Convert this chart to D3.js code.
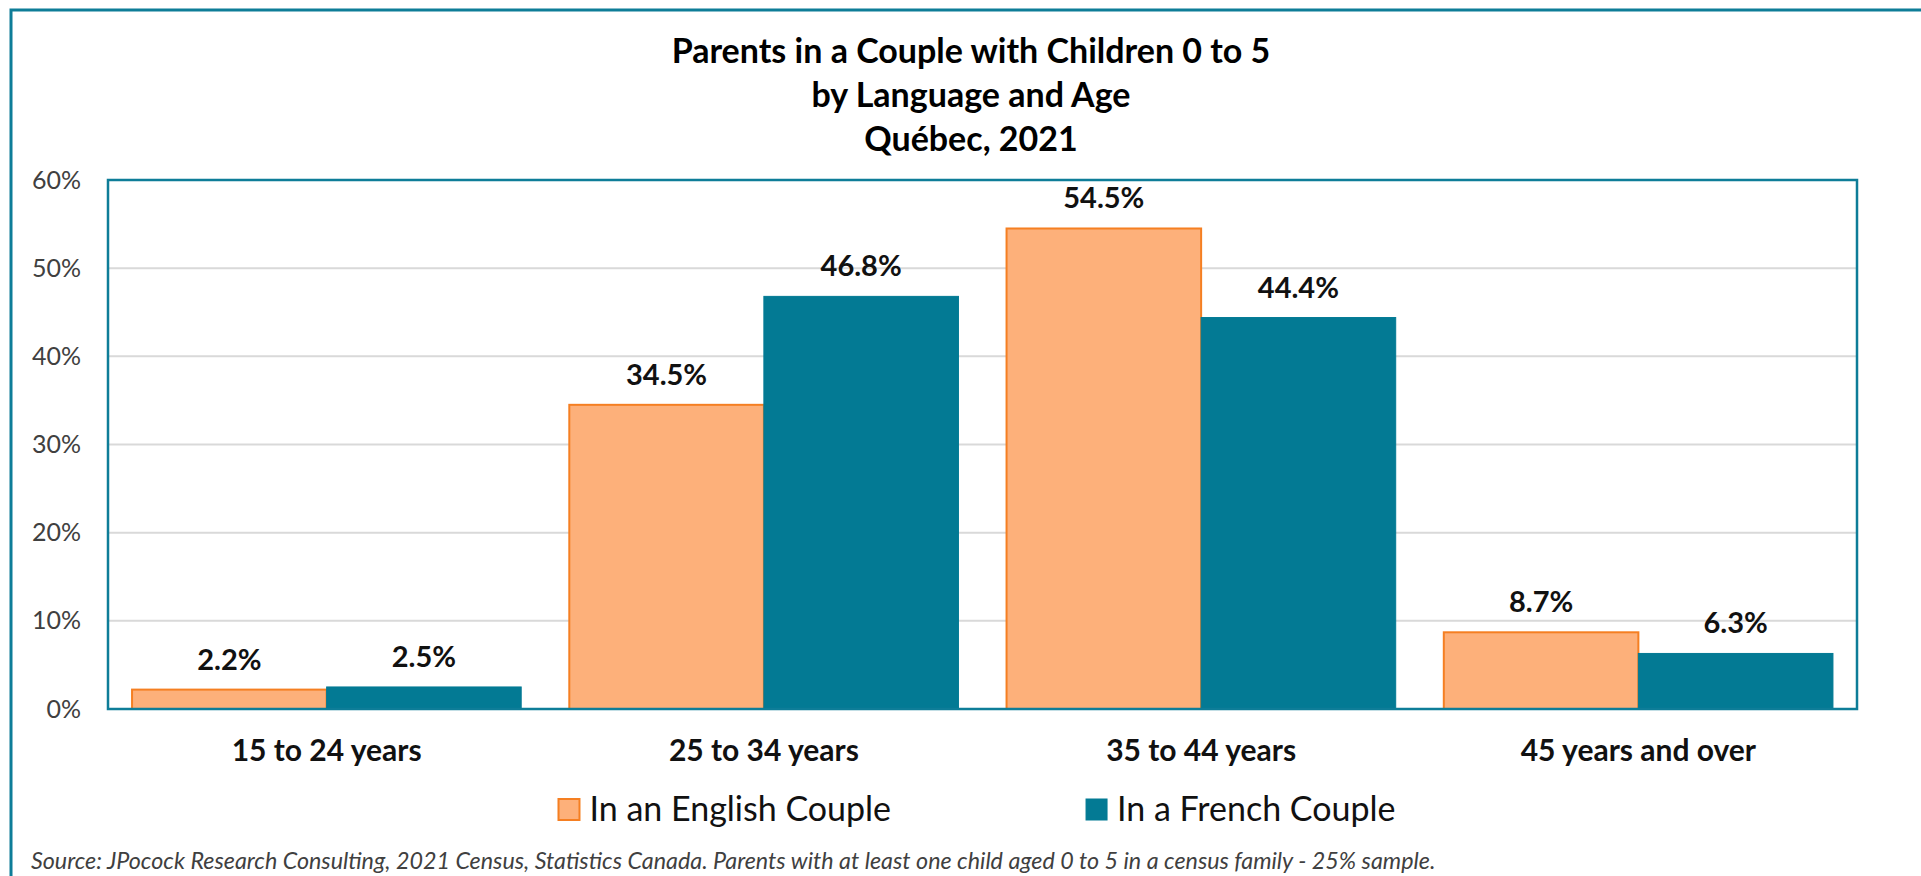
<!DOCTYPE html>
<html>
<head>
<meta charset="utf-8">
<script src="https://cdn.jsdelivr.net/npm/d3@7/dist/d3.min.js"></script>
<style>
  html, body { margin: 0; padding: 0; background: #ffffff; overflow: hidden; }
  svg { display: block; }
  text { font-family: Lato, "Open Sans", "Noto Sans", sans-serif; }
</style>
</head>
<body>
<svg id="chart" width="1921" height="876"></svg>
<script>
// ---- data ----
const titleLines = ["Parents in a Couple with Children 0 to 5", "by Language and Age", "Québec, 2021"];
const categories = ["15 to 24 years", "25 to 34 years", "35 to 44 years", "45 years and over"];
const seriesNames = ["In an English Couple", "In a French Couple"];
const englishValues = [2.2, 34.5, 54.5, 8.7];
const frenchValues = [2.5, 46.8, 44.4, 6.3];
const yTicks = [0, 10, 20, 30, 40, 50, 60];
const sourceText = "Source: JPocock Research Consulting, 2021 Census, Statistics Canada. Parents with at least one child aged 0 to 5 in a census family - 25% sample.";

// ---- styles ----
const TEAL = "#037a94";
const FRAME = "#0e7d98";
const ORANGE_FILL = "#fdb07a";
const ORANGE_STROKE = "#f57f22";
const seriesColors = [
  { fill: ORANGE_FILL, stroke: ORANGE_STROKE, sw: 2 },
  { fill: TEAL, stroke: TEAL, sw: 1 }
];

const svg = d3.select("#chart");

// outer frame (top and left edges visible, continues past the window)
svg.append("path")
  .attr("d", "M11,1000 L11,10 L1930,10")
  .attr("fill", "none")
  .attr("stroke", FRAME)
  .attr("stroke-width", 3);

const plot = { left: 108, right: 1857, top: 180, bottom: 709 };

const y = d3.scaleLinear().domain([0, 60]).range([plot.bottom, plot.top]);
const x0 = d3.scaleBand().domain(categories).range([plot.left, plot.right])
  .paddingInner(0.11).paddingOuter(0.055);
const x1 = d3.scaleBand().domain(seriesNames).range([0, x0.bandwidth()]);

// title
svg.append("g").selectAll("text").data(titleLines).join("text")
  .attr("x", 971)
  .attr("y", (d, i) => 63 + i * 44)
  .attr("text-anchor", "middle")
  .attr("font-size", 34)
  .attr("font-weight", 700)
  .attr("fill", "#000")
  .text(d => d);

// gridlines
svg.append("g").selectAll("line").data(yTicks.filter(t => t > 0 && t < 60)).join("line")
  .attr("x1", plot.left).attr("x2", plot.right)
  .attr("y1", d => y(d)).attr("y2", d => y(d))
  .attr("stroke", "#d9d9d9").attr("stroke-width", 2);

// y axis
const yAxis = svg.append("g")
  .attr("transform", `translate(${plot.left},0)`)
  .call(d3.axisLeft(y).tickValues(yTicks).tickFormat(d => d + "%").tickSize(0).tickPadding(27));
yAxis.select(".domain").remove();
yAxis.selectAll("text")
  .attr("font-size", 25)
  .attr("fill", "#404040")
  .style("font-family", "Lato, 'Open Sans', sans-serif");

// bars
const rows = categories.map((c, i) => ({ cat: c, vals: [englishValues[i], frenchValues[i]] }));
const groups = svg.append("g").selectAll("g").data(rows).join("g")
  .attr("transform", d => `translate(${x0(d.cat)},0)`);

groups.selectAll("rect").data(d => d.vals.map((v, k) => ({ v, k }))).join("rect")
  .attr("x", d => x1(seriesNames[d.k]))
  .attr("y", d => y(d.v))
  .attr("width", x1.bandwidth())
  .attr("height", d => y(0) - y(d.v))
  .attr("fill", d => seriesColors[d.k].fill)
  .attr("stroke", d => seriesColors[d.k].stroke)
  .attr("stroke-width", d => seriesColors[d.k].sw);

// value labels
groups.selectAll("text.val").data(d => d.vals.map((v, k) => ({ v, k }))).join("text")
  .attr("class", "val")
  .attr("x", d => x1(seriesNames[d.k]) + x1.bandwidth() / 2)
  .attr("y", d => y(d.v) - 20)
  .attr("text-anchor", "middle")
  .attr("font-size", 29)
  .attr("font-weight", 700)
  .attr("fill", "#111")
  .text(d => d3.format(".1f")(d.v) + "%");

// plot border
svg.append("rect")
  .attr("x", plot.left).attr("y", plot.top)
  .attr("width", plot.right - plot.left).attr("height", plot.bottom - plot.top)
  .attr("fill", "none").attr("stroke", FRAME).attr("stroke-width", 2.5);

// x axis
const xAxis = svg.append("g")
  .attr("transform", `translate(0,${plot.bottom})`)
  .call(d3.axisBottom(x0).tickSize(0));
xAxis.select(".domain").remove();
xAxis.selectAll("text")
  .attr("y", 52).attr("dy", 0)
  .attr("font-size", 30)
  .attr("font-weight", 700)
  .attr("fill", "#111")
  .style("font-family", "Lato, 'Open Sans', sans-serif");

// legend
const legend = svg.append("g");
const items = legend.selectAll("g").data(seriesNames).join("g");
items.append("rect")
  .attr("x", 0).attr("y", -22).attr("width", 21).attr("height", 21)
  .attr("fill", (d, i) => seriesColors[i].fill)
  .attr("stroke", (d, i) => seriesColors[i].stroke)
  .attr("stroke-width", (d, i) => seriesColors[i].sw);
items.append("text")
  .attr("x", 31).attr("y", 0)
  .attr("font-size", 34)
  .attr("fill", "#111")
  .text(d => d);
const widths = [];
items.each(function () { widths.push(this.getBBox().width); });
const gap = 195;
const total = widths[0] + gap + widths[1];
let lx = 977 - total / 2;
items.attr("transform", (d, i) => {
  const tx = i === 0 ? lx : lx + widths[0] + gap;
  return `translate(${tx},821)`;
});

// source
svg.append("text")
  .attr("x", 31).attr("y", 869)
  .attr("font-size", 23.3)
  .attr("font-style", "italic")
  .attr("fill", "#404040")
  .text(sourceText);
</script>
</body>
</html>
